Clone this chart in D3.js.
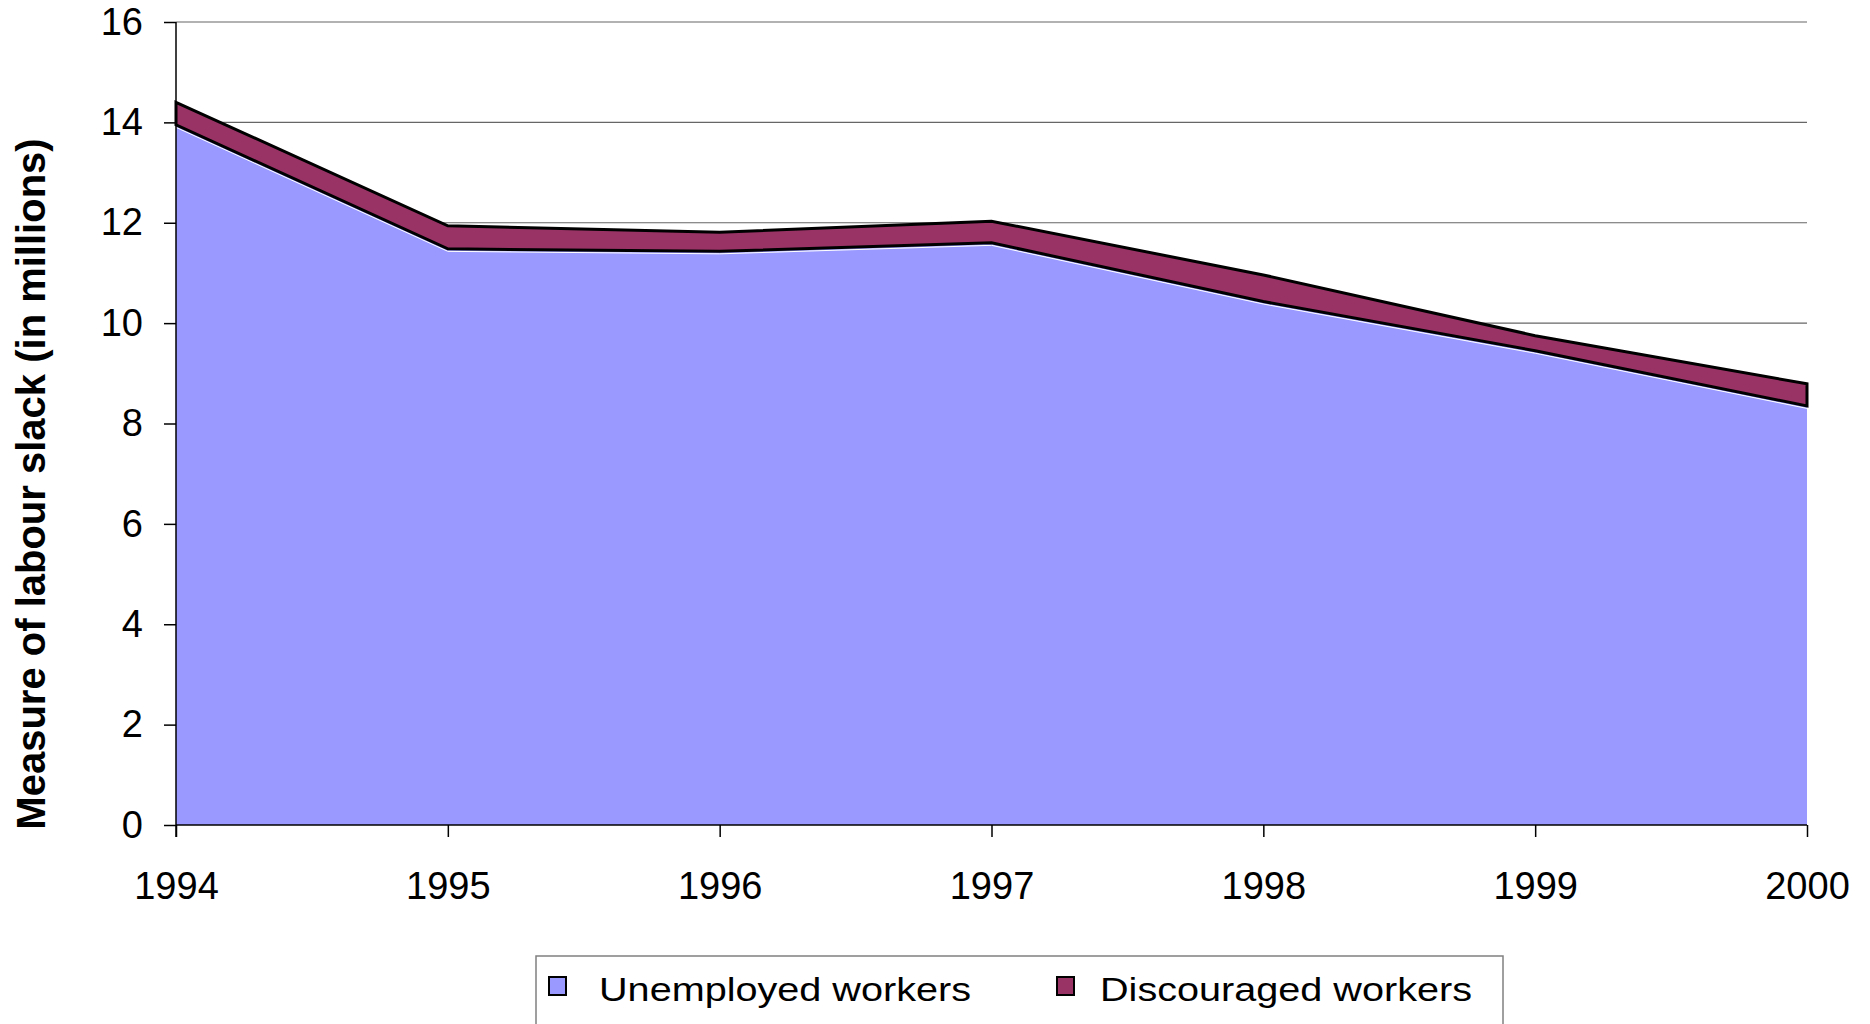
<!DOCTYPE html>
<html>
<head>
<meta charset="utf-8">
<script src="https://cdn.jsdelivr.net/npm/d3@7"></script>
<style>
  body { margin: 0; background: #fff; }
  text { font-family: "Liberation Sans", Arial, sans-serif; fill: #000; }
</style>
</head>
<body>
<div id="chart"></div>
<script>
var years = [1994, 1995, 1996, 1997, 1998, 1999, 2000];
var unemployed = [13.95, 11.48, 11.43, 11.6, 10.43, 9.45, 8.35];
var discouraged = [0.45, 0.46, 0.38, 0.43, 0.53, 0.3, 0.44];
var yTicks = [0, 2, 4, 6, 8, 10, 12, 14, 16];
var seriesNames = ["Unemployed workers", "Discouraged workers"];
var seriesColors = ["#9999FF", "#993366"];

var width = 1870, height = 1024;

var x = d3.scalePoint().domain(years).range([176, 1807]);
var y = d3.scaleLinear().domain([0, 16]).range([825, 22]);

var rows = years.map(function(yr, i) {
  return { year: yr, unemployed: unemployed[i], discouraged: discouraged[i] };
});
var stacked = d3.stack().keys(["unemployed", "discouraged"])(rows);

var svg = d3.select("#chart").append("svg")
  .attr("width", width)
  .attr("height", height);

// gridlines
svg.append("g").selectAll("line")
  .data(yTicks.slice(1))
  .enter().append("line")
  .attr("x1", x(years[0]))
  .attr("x2", x(years[years.length - 1]))
  .attr("y1", function(d) { return y(d); })
  .attr("y2", function(d) { return y(d); })
  .attr("stroke", "#666")
  .attr("stroke-width", 1.2);

var area = d3.area()
  .x(function(d) { return x(d.data.year); })
  .y0(function(d) { return y(d[0]); })
  .y1(function(d) { return y(d[1]); });

svg.append("path")
  .datum(stacked[0])
  .attr("d", area)
  .attr("fill", seriesColors[0]);

// thin white edge under the dark band
svg.append("path")
  .datum(stacked[0])
  .attr("d", d3.line()
    .x(function(d) { return x(d.data.year); })
    .y(function(d) { return y(d[1]); }))
  .attr("transform", "translate(0,2.5)")
  .attr("fill", "none")
  .attr("stroke", "#fff")
  .attr("stroke-width", 1);

svg.append("path")
  .datum(stacked[1])
  .attr("d", area)
  .attr("fill", seriesColors[1])
  .attr("stroke", "#000")
  .attr("stroke-width", 3)
  .attr("stroke-linejoin", "miter");

// axes
var yAxis = svg.append("g")
  .attr("transform", "translate(176,0)")
  .call(d3.axisLeft(y).tickValues(yTicks).tickSize(12).tickPadding(21).tickFormat(d3.format("d")));

var xAxis = svg.append("g")
  .attr("transform", "translate(0,825)")
  .call(d3.axisBottom(x).tickSize(12).tickPadding(35).tickFormat(d3.format("d")));

[yAxis, xAxis].forEach(function(ax) {
  ax.select(".domain").attr("stroke", "#000").attr("stroke-width", 1.5);
  ax.selectAll(".tick line").attr("stroke", "#000").attr("stroke-width", 1.5);
  ax.selectAll(".tick text")
    .style("font-family", "'Liberation Sans', Arial, sans-serif")
    .style("font-size", "38px")
    .attr("fill", "#000");
});
yAxis.select(".domain").attr("d", "M0,22V837");
xAxis.select(".domain").attr("d", "M176,0H1807");

// y title
svg.append("text")
  .attr("transform", "translate(45,484) rotate(-90)")
  .attr("text-anchor", "middle")
  .style("font-size", "40px")
  .style("font-weight", "bold")
  .text("Measure of labour slack (in millions)");

// legend
var legend = svg.append("g");
legend.append("rect")
  .attr("x", 536).attr("y", 956)
  .attr("width", 967).attr("height", 120)
  .attr("fill", "#fff")
  .attr("stroke", "#808080")
  .attr("stroke-width", 1.5);

var swatchX = [549, 1057];
var labelX = [599, 1100];
var items = legend.selectAll(".item")
  .data(seriesNames)
  .enter().append("g")
  .attr("class", "item");

items.append("rect")
  .attr("x", function(d, i) { return swatchX[i]; })
  .attr("y", 977)
  .attr("width", 17).attr("height", 18)
  .attr("fill", function(d, i) { return seriesColors[i]; })
  .attr("stroke", "#000")
  .attr("stroke-width", 2);

items.append("text")
  .attr("x", function(d, i) { return labelX[i]; })
  .attr("y", 1001)
  .style("font-size", "34px")
  .attr("textLength", 372)
  .attr("lengthAdjust", "spacingAndGlyphs")
  .text(function(d) { return d; });
</script>
</body>
</html>
